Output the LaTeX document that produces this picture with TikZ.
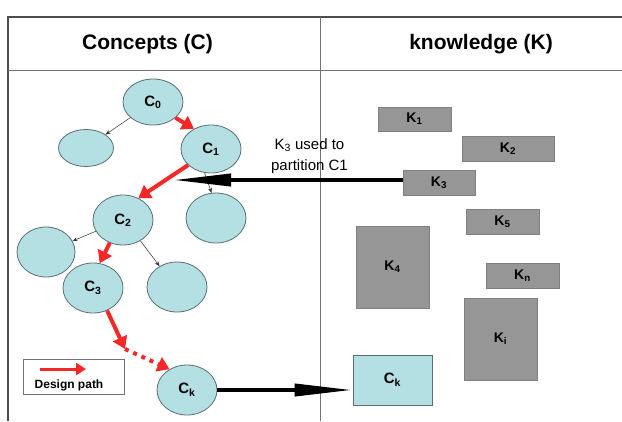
\documentclass[tikz,border=0pt]{standalone}
\usepackage{fontspec}
\setmainfont{Liberation Sans}
\usetikzlibrary{arrows.meta,shapes.geometric,calc}
\definecolor{cfill}{RGB}{180,224,228}
\definecolor{cedge}{RGB}{90,110,115}
\definecolor{kfill}{RGB}{150,150,150}
\definecolor{pathred}{RGB}{245,40,40}
\newcommand{\idx}[2]{#1\textsubscript{#2}}
\begin{document}
\begin{tikzpicture}[x=1pt,y=-1pt,
  concept/.style={ellipse,draw=cedge,fill=cfill,line width=0.8pt,
    minimum width=60pt,minimum height=50pt,inner sep=0pt,font=\fontsize{15}{17}\selectfont\bfseries},
  kbox/.style={rectangle,fill=kfill,draw=kfill!85!black,line width=0.4pt,inner sep=0pt,
    font=\fontsize{14}{16}\selectfont\bfseries},
  branch/.style={draw=black!80,line width=0.5pt,-{Stealth[length=5pt,width=4pt]}},
  designpath/.style={draw=pathred,line width=4pt,-{Triangle[length=12pt,width=15pt]}},
  bigarrow/.style={draw=black,line width=4pt,-{Triangle[length=58pt,width=12pt]}},
  frameline/.style={draw=black!70,line width=1.2pt},
  header/.style={font=\fontsize{21}{24}\selectfont\bfseries}]
\useasboundingbox (0,0) rectangle (622,421);
\fill[white] (0,0) rectangle (622,421);

% table frame
\draw[frameline] (8,421) -- (8,17) -- (622,17);
\draw[draw=black!55,line width=0.9pt] (8,70) -- (622,70);
\draw[draw=black!55,line width=0.8pt] (320,17) -- (320,421);
\node[header] (hc) at (147.5,44) {Concepts (C)};
\node[header] (hk) at (481,44) {knowledge (K)};

% concept tree
\node[concept,minimum height=46pt] (c0) at (153,102) {\idx{C}{0}};
\node[concept,minimum width=55pt,minimum height=37pt] (e0) at (86,148) {};
\node[concept,minimum height=48pt] (c1) at (211,149) {\idx{C}{1}};
\node[concept] (e1) at (216,218) {};
\node[concept] (c2) at (123,220) {\idx{C}{2}};
\node[concept,minimum width=58pt] (e2) at (46,252) {};
\node[concept] (c3) at (93,288) {\idx{C}{3}};
\node[concept] (e3) at (177,287) {};
\node[concept] (ck) at (187,390) {\idx{C}{k}};

% branches not taken
\draw[branch] (c0) -- (e0);
\draw[branch] (c1.255) -- (e1.100);
\draw[branch] (c2) -- (e2);
\draw[branch] (c2.-50) -- (e3.130);

% design path
\draw[designpath] (c0.-35) -- (c1.130);
\draw[designpath] (c1.215) -- (c2.55);
\draw[designpath] (c2.240) -- (c3.75);
\coordinate (gap) at (125,349);
\draw[designpath] (c3.-58) -- (gap);
\draw[designpath,dash pattern=on 4pt off 5pt] (gap) -- (ck.130);

% knowledge items
\node[kbox,minimum width=73pt,minimum height=24pt] (k1) at (414.5,119) {\idx{K}{1}};
\node[kbox,minimum width=92pt,minimum height=25pt] (k2) at (508,148.5) {\idx{K}{2}};
\node[kbox,minimum width=72pt,minimum height=25pt] (k3) at (439,182.5) {\idx{K}{3}};
\node[kbox,minimum width=73pt,minimum height=25pt] (k5) at (502.5,221.5) {\idx{K}{5}};
\node[kbox,minimum width=73pt,minimum height=82pt] (k4) at (392.5,267) {\idx{K}{4}};
\node[kbox,minimum width=73pt,minimum height=25pt] (kn) at (522.5,275.5) {\idx{K}{n}};
\node[kbox,minimum width=73pt,minimum height=82pt] (ki) at (500.5,339) {\idx{K}{i}};
\node[kbox,fill=cfill,draw=cedge,line width=0.8pt,minimum width=79pt,minimum height=50pt,font=\fontsize{15}{17}\selectfont\bfseries] (ckb) at (392.5,380) {\idx{C}{k}};

% knowledge used on concepts
\coordinate (k3out) at ($(k3.west)+(0,-2.5)$);
\coordinate (c1tip) at (173,180);
\draw[bigarrow] (k3out) -- (c1tip);
\node[font=\fontsize{15}{21}\selectfont,align=center] (kused) at (309.5,156) {\idx{K}{3} used to\\partition C1};
\draw[bigarrow] (ck.east) -- (ck.east -| ckb.west);

% legend
\node[draw=black!55,line width=0.8pt,minimum width=101pt,minimum height=35pt,inner sep=0pt] (legend) at (73.5,376.5) {};
\coordinate (lega) at (40,369);
\coordinate (legb) at (86,369);
\draw[designpath,line width=3pt,-{Triangle[length=10pt,width=12pt]}] (lega) -- (legb);
\node[font=\fontsize{12}{14}\selectfont\bfseries] (legt) at (69,385) {Design path};
\end{tikzpicture}
\end{document}
